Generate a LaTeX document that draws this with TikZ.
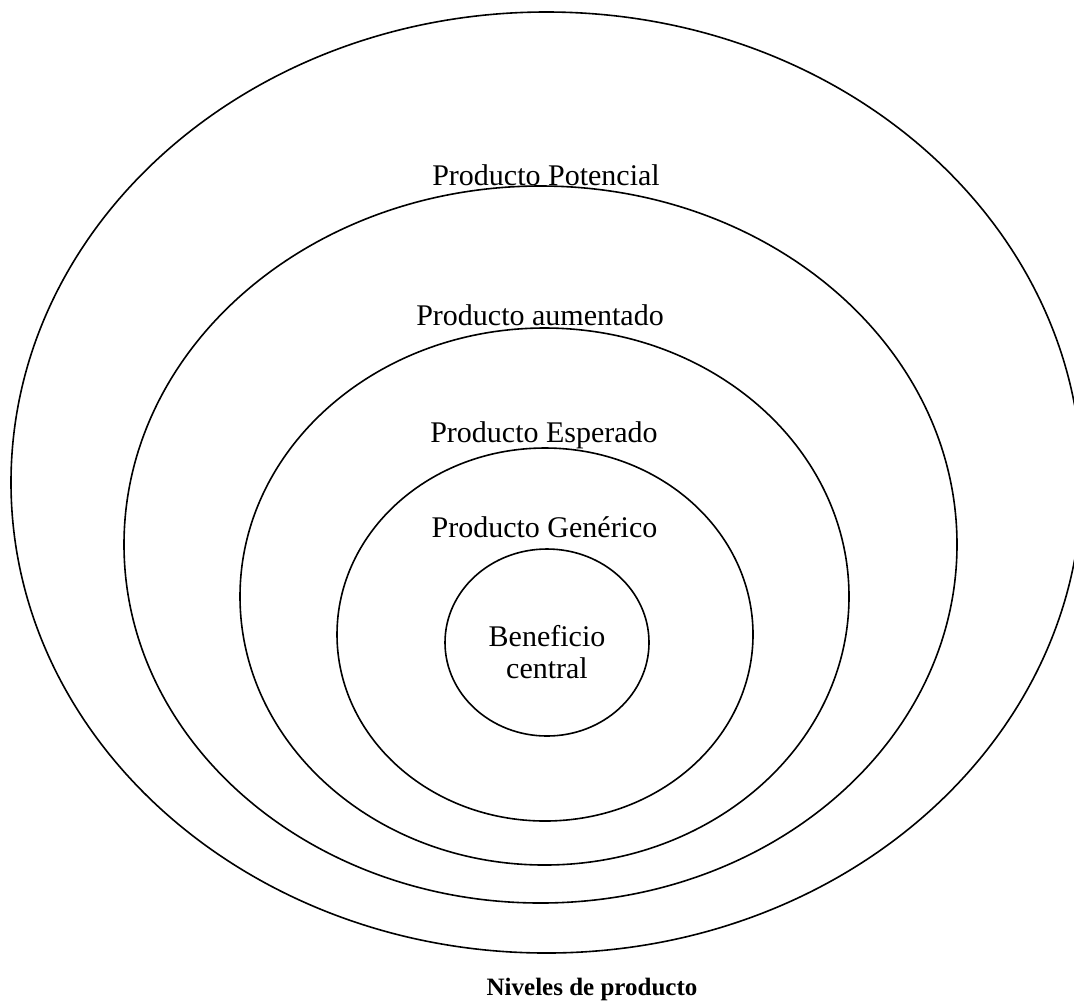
\documentclass[tikz,border=0pt]{standalone}
\usepackage{fontspec}
\setmainfont{Liberation Serif}
\usetikzlibrary{shapes.geometric}
\begin{document}
\begin{tikzpicture}[x=0.5pt,y=-0.5pt,
  ring/.style={draw=black,line width=0.8pt,ellipse,inner sep=0pt,fill=none},
  lbl/.style={anchor=base,inner sep=0pt,font=\fontsize{15}{16}\selectfont},
  captionlbl/.style={anchor=base,inner sep=0pt,font=\fontsize{12.5}{14}\selectfont\bfseries}]
\useasboundingbox (0,0) rectangle (1074,1002);
\clip (0,0) rectangle (1074,1002);
\node[ring,minimum width=535.4pt,minimum height=470.5pt] (potencial) at (546.4,482.5) {};
\node[ring,minimum width=416.5pt,minimum height=358.5pt] (aumentado) at (540.5,544.5) {};
\node[ring,minimum width=304.5pt,minimum height=268.5pt] (esperado) at (544.5,596.5) {};
\node[ring,minimum width=208pt,minimum height=186.5pt] (generico) at (545,634.5) {};
\node[ring,minimum width=102pt,minimum height=93.5pt] (beneficio) at (547,642.5) {};
\node[lbl] (tpot) at (546,185) {Producto Potencial};
\node[lbl] (taum) at (540,325) {Producto aumentado};
\node[lbl] (tesp) at (544,442) {Producto Esperado};
\node[lbl] (tgen) at (544.5,537) {Producto Genérico};
\node[lbl] (tben1) at (547,646) {Beneficio};
\node[lbl] (tben2) at (547,678) {central};
\node[captionlbl] (caption) at (592,995) {Niveles de producto};
\end{tikzpicture}
\end{document}
